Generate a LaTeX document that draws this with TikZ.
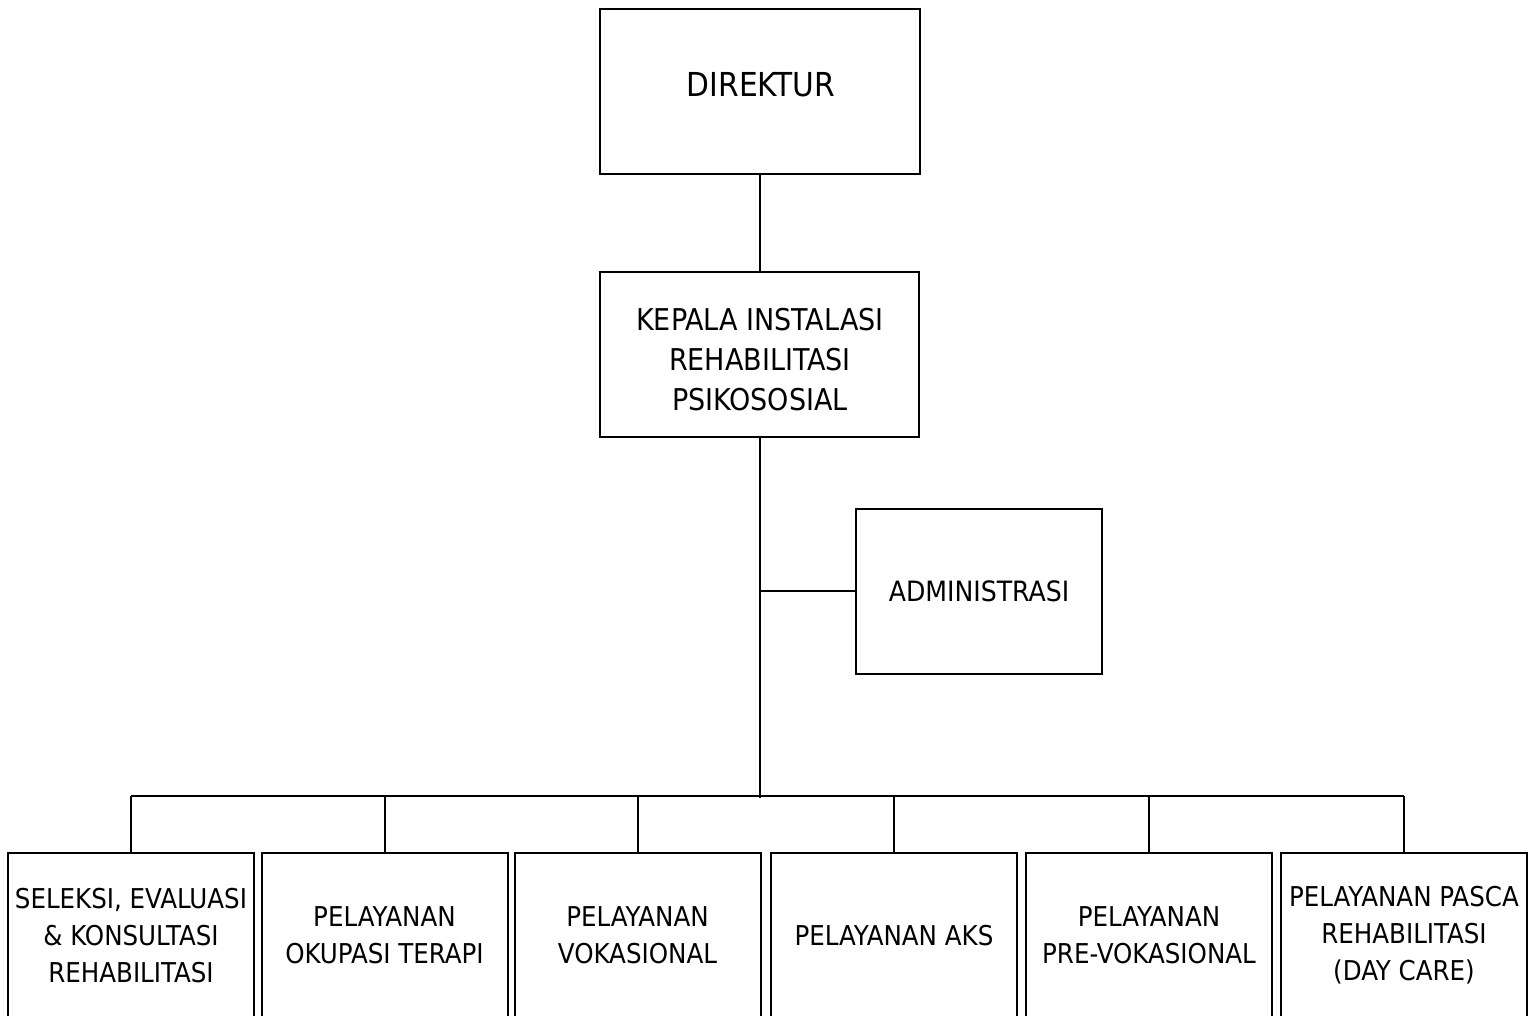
\documentclass[tikz,border=0pt]{standalone}
\usepackage{fontspec}
\setmainfont{DejaVu Sans Condensed}
\begin{document}
\begin{tikzpicture}[x=1pt,y=-1pt,
  orgbox/.style={draw=black, line width=2pt, rectangle, inner sep=0pt,
                 minimum height=165pt, align=center},
  unitbox/.style={orgbox, minimum width=246pt,
                  font=\fontsize{27.3}{37}\selectfont},
  wire/.style={draw=black, line width=2pt},
  lbl/.style={align=center, inner sep=0pt, text=black},
]
\useasboundingbox (0,0) rectangle (1534,1016);
\clip (0,0) rectangle (1534,1016);

% top of the hierarchy
\node[orgbox, minimum width=320pt] (dir) at (760,91.5) {};
\node[lbl, font=\fontsize{33}{38}\selectfont] (dirtext) at (761,85) {DIREKTUR};

\node[orgbox, minimum width=319pt] (kep) at (759.5,354.5) {};
\node[lbl, font=\fontsize{30}{40}\selectfont] (keptext) at (760,360)
  {KEPALA INSTALASI\\REHABILITASI\\PSIKOSOSIAL};

% staff unit on the side
\node[orgbox, minimum width=246pt, font=\fontsize{28}{37}\selectfont]
  (adm) at (979,591) {ADMINISTRASI};

% service units
\node[unitbox] (u1) at (131,935.5)   {SELEKSI, EVALUASI\\\& KONSULTASI\\REHABILITASI};
\node[unitbox] (u2) at (384.5,935.5) {PELAYANAN\\OKUPASI TERAPI};
\node[unitbox] (u3) at (637.5,935.5) {PELAYANAN\\VOKASIONAL};
\node[unitbox] (u4) at (894,935.5)   {PELAYANAN AKS};
\node[unitbox] (u5) at (1149,935.5)  {PELAYANAN\\PRE-VOKASIONAL};
\node[unitbox] (u6) at (1404,935.5)  {PELAYANAN PASCA\\REHABILITASI\\(DAY CARE)};

% connectors
\coordinate (bus) at (760,796);
\draw[wire] (dir.south) -- (dir.south |- kep.north);
\draw[wire] (kep.south) -- ([yshift=-2pt]kep.south |- bus);
\draw[wire] (kep.south |- adm.west) -- (adm.west);
\draw[wire] (u1.north |- bus) -- (u6.north |- bus);
\foreach \u in {u1,u2,u3,u4,u5,u6}
  \draw[wire] (\u.north |- bus) -- (\u.north);
\end{tikzpicture}
\end{document}
